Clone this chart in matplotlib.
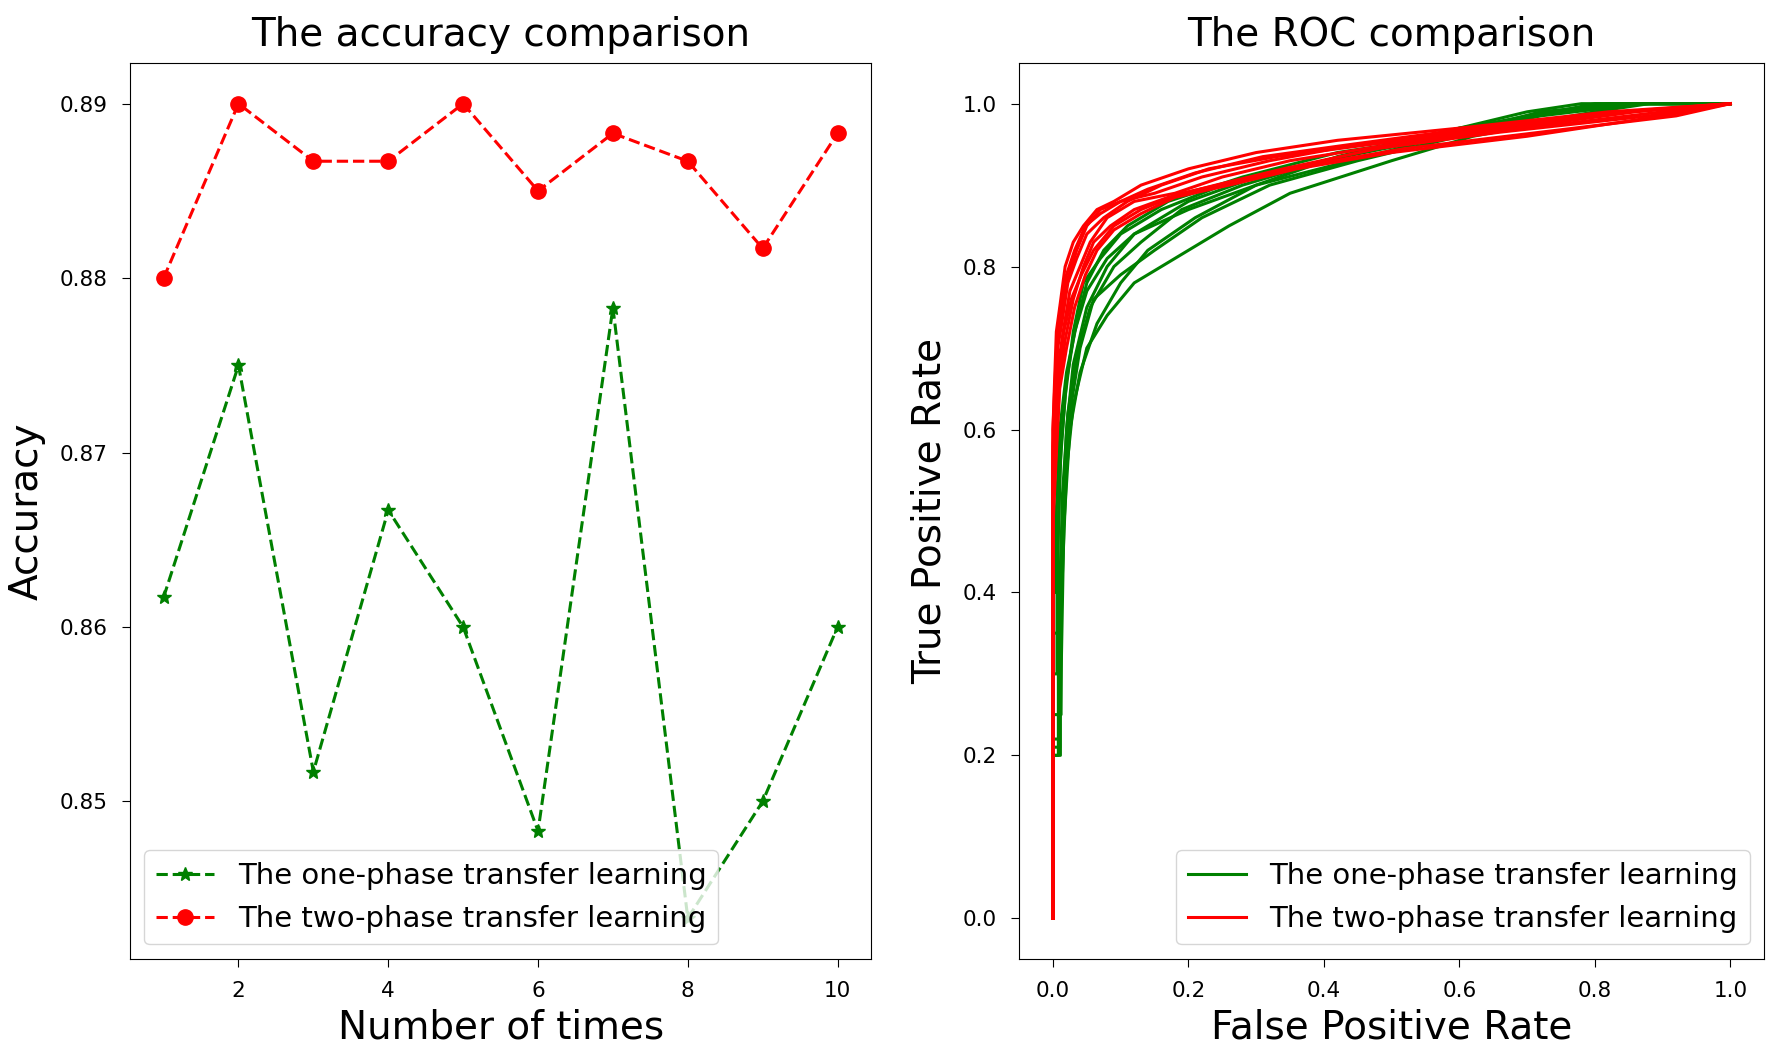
import matplotlib.pyplot as plt

# accuracy of each run
runs = [1, 2, 3, 4, 5, 6, 7, 8, 9, 10]
acc_one = [0.8617, 0.875, 0.8517, 0.8667, 0.860, 0.8483, 0.8783, 0.8433, 0.850, 0.860]
acc_two = [0.880, 0.890, 0.8867, 0.8867, 0.890, 0.885, 0.8883, 0.8867, 0.8817, 0.8883]

# ROC curves (fpr list, tpr list), one pair per run
roc_one = [
    ([0, 0, 0.008, 0.008, 0.012, 0.02, 0.03, 0.05, 0.08, 0.12, 0.2, 0.3, 0.45, 0.6, 0.75, 0.85, 1.0],
     [0, 0.2, 0.2, 0.38, 0.45, 0.6, 0.68, 0.75, 0.8, 0.84, 0.88, 0.91, 0.94, 0.97, 0.99, 1.0, 1.0]),
    ([0, 0, 0.01, 0.01, 0.015, 0.025, 0.04, 0.06, 0.1, 0.15, 0.22, 0.32, 0.45, 0.6, 0.8, 0.88, 1.0],
     [0, 0.21, 0.21, 0.3, 0.5, 0.62, 0.7, 0.76, 0.79, 0.82, 0.86, 0.9, 0.93, 0.96, 0.99, 1.0, 1.0]),
    ([0, 0, 0.006, 0.006, 0.01, 0.018, 0.03, 0.045, 0.07, 0.1, 0.16, 0.25, 0.4, 0.55, 0.7, 0.82, 1.0],
     [0, 0.3, 0.3, 0.4, 0.55, 0.64, 0.72, 0.78, 0.81, 0.84, 0.87, 0.9, 0.93, 0.96, 0.985, 1.0, 1.0]),
    ([0, 0, 0.012, 0.012, 0.02, 0.03, 0.05, 0.08, 0.12, 0.18, 0.26, 0.35, 0.5, 0.62, 0.75, 0.86, 1.0],
     [0, 0.25, 0.25, 0.38, 0.55, 0.63, 0.7, 0.74, 0.78, 0.81, 0.85, 0.89, 0.93, 0.96, 0.98, 1.0, 1.0]),
    ([0, 0, 0.005, 0.005, 0.01, 0.02, 0.035, 0.05, 0.075, 0.11, 0.17, 0.28, 0.42, 0.58, 0.72, 0.84, 1.0],
     [0, 0.4, 0.4, 0.5, 0.6, 0.67, 0.73, 0.78, 0.82, 0.85, 0.88, 0.91, 0.94, 0.96, 0.99, 1.0, 1.0]),
    ([0, 0, 0.009, 0.009, 0.014, 0.022, 0.035, 0.055, 0.09, 0.13, 0.19, 0.28, 0.4, 0.52, 0.68, 0.8, 1.0],
     [0, 0.22, 0.22, 0.35, 0.52, 0.62, 0.69, 0.75, 0.8, 0.83, 0.87, 0.9, 0.93, 0.95, 0.98, 1.0, 1.0]),
    ([0, 0, 0.007, 0.007, 0.012, 0.02, 0.032, 0.05, 0.08, 0.12, 0.2, 0.3, 0.42, 0.55, 0.7, 0.78, 1.0],
     [0, 0.35, 0.35, 0.45, 0.58, 0.66, 0.72, 0.77, 0.81, 0.84, 0.87, 0.9, 0.935, 0.96, 0.99, 1.0, 1.0]),
    ([0, 0, 0.011, 0.011, 0.016, 0.025, 0.04, 0.065, 0.1, 0.14, 0.21, 0.3, 0.44, 0.58, 0.72, 0.87, 1.0],
     [0, 0.2, 0.2, 0.25, 0.48, 0.6, 0.67, 0.73, 0.78, 0.82, 0.86, 0.9, 0.93, 0.96, 0.985, 1.0, 1.0]),
]
roc_two = [
    ([0, 0.0, 0.003, 0.006, 0.012, 0.02, 0.035, 0.05, 0.07, 0.1, 0.15, 0.22, 0.32, 0.45, 0.65, 0.85, 1.0],
     [0, 0.58, 0.62, 0.7, 0.74, 0.78, 0.82, 0.85, 0.87, 0.88, 0.89, 0.91, 0.93, 0.95, 0.97, 0.99, 1.0]),
    ([0, 0.0, 0.004, 0.008, 0.015, 0.025, 0.04, 0.055, 0.08, 0.12, 0.18, 0.25, 0.35, 0.5, 0.7, 0.9, 1.0],
     [0, 0.55, 0.6, 0.68, 0.72, 0.77, 0.8, 0.83, 0.86, 0.88, 0.89, 0.91, 0.93, 0.95, 0.97, 0.99, 1.0]),
    ([0, 0.0, 0.002, 0.005, 0.01, 0.018, 0.03, 0.045, 0.065, 0.09, 0.13, 0.2, 0.3, 0.42, 0.6, 0.82, 1.0],
     [0, 0.6, 0.65, 0.72, 0.75, 0.8, 0.83, 0.85, 0.87, 0.88, 0.9, 0.92, 0.94, 0.955, 0.97, 0.99, 1.0]),
    ([0, 0.0, 0.005, 0.01, 0.018, 0.03, 0.045, 0.06, 0.085, 0.12, 0.17, 0.24, 0.34, 0.48, 0.66, 0.88, 1.0],
     [0, 0.5, 0.58, 0.66, 0.71, 0.76, 0.8, 0.83, 0.85, 0.87, 0.885, 0.9, 0.92, 0.945, 0.965, 0.985, 1.0]),
    ([0, 0.0, 0.003, 0.007, 0.013, 0.022, 0.035, 0.05, 0.075, 0.11, 0.16, 0.23, 0.33, 0.47, 0.68, 0.86, 1.0],
     [0, 0.57, 0.63, 0.7, 0.73, 0.78, 0.81, 0.84, 0.86, 0.88, 0.9, 0.92, 0.935, 0.95, 0.97, 0.99, 1.0]),
    ([0, 0.0, 0.004, 0.009, 0.016, 0.027, 0.042, 0.06, 0.09, 0.13, 0.19, 0.27, 0.38, 0.52, 0.72, 0.92, 1.0],
     [0, 0.52, 0.59, 0.67, 0.72, 0.76, 0.79, 0.82, 0.85, 0.87, 0.89, 0.905, 0.925, 0.945, 0.965, 0.985, 1.0]),
    ([0, 0.0, 0.002, 0.006, 0.011, 0.02, 0.032, 0.048, 0.07, 0.1, 0.14, 0.21, 0.31, 0.44, 0.62, 0.84, 1.0],
     [0, 0.6, 0.64, 0.71, 0.75, 0.79, 0.82, 0.85, 0.865, 0.88, 0.895, 0.915, 0.935, 0.95, 0.97, 0.99, 1.0]),
    ([0, 0.0, 0.005, 0.01, 0.02, 0.032, 0.048, 0.065, 0.09, 0.13, 0.18, 0.26, 0.36, 0.5, 0.7, 0.9, 1.0],
     [0, 0.48, 0.57, 0.65, 0.7, 0.75, 0.79, 0.82, 0.845, 0.865, 0.885, 0.9, 0.92, 0.94, 0.96, 0.985, 1.0]),
]

label_one = 'The one-phase transfer learning'
label_two = 'The two-phase transfer learning'

fig = plt.figure(figsize=(17.72, 10.49), dpi=100)
ax1 = fig.add_axes([0.0733, 0.0858, 0.4184, 0.8542])
ax2 = fig.add_axes([0.5751, 0.0858, 0.4205, 0.8542])

# 左图：准确率
ax1.plot(runs, acc_one, color='green', linestyle='--', marker='*', markersize=10,
         linewidth=2.2, label=label_one)
ax1.plot(runs, acc_two, color='red', linestyle='--', marker='o', markersize=11,
         linewidth=2.2, label=label_two)
ax1.set_title('The accuracy comparison', fontsize=28, pad=12)
ax1.set_xlabel('Number of times', fontsize=28, labelpad=5)
ax1.set_ylabel('Accuracy', fontsize=28, labelpad=10)
ax1.set_xticks([2, 4, 6, 8, 10])
ax1.set_yticks([0.85, 0.86, 0.87, 0.88, 0.89])
ax1.tick_params(labelsize=15.5, length=6, pad=10)
ax1.legend(loc='lower left', fontsize=21)

# 右图：ROC
for i, (fpr, tpr) in enumerate(roc_one):
    ax2.plot(fpr, tpr, color='green', linewidth=2.2, label=label_one if i == 0 else None)
for i, (fpr, tpr) in enumerate(roc_two):
    ax2.plot(fpr, tpr, color='red', linewidth=2.2, label=label_two if i == 0 else None)
ax2.set_title('The ROC comparison', fontsize=28, pad=12)
ax2.set_xlabel('False Positive Rate', fontsize=28, labelpad=5)
ax2.set_ylabel('True Positive Rate', fontsize=28, labelpad=10)
ax2.tick_params(labelsize=15.5, length=6, pad=10)
ax2.legend(loc='lower right', fontsize=21)

plt.savefig('out.png', dpi=100)
